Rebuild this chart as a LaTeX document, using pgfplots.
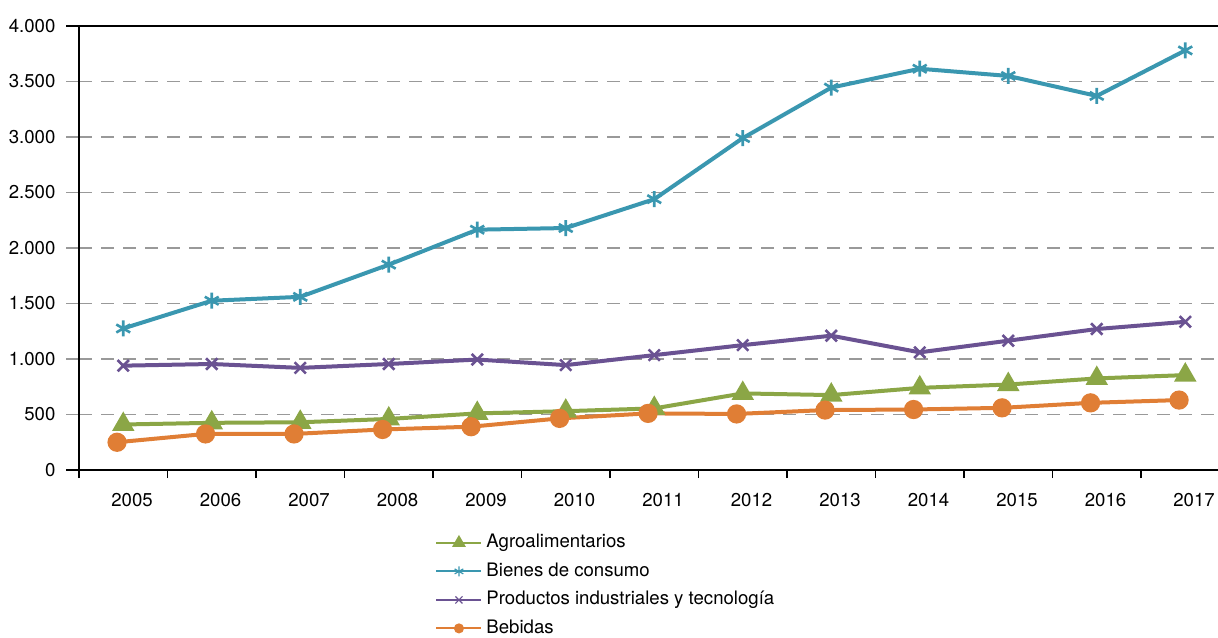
\documentclass[border=0pt]{standalone}
\usepackage{fontspec}
\setmainfont{TeX Gyre Heros}
\usepackage{pgfplots}
\pgfplotsset{compat=1.18}
\usetikzlibrary{calc}
\definecolor{agro}{HTML}{8BA646}
\definecolor{bienes}{HTML}{3A97B0}
\definecolor{prod}{HTML}{6A5292}
\definecolor{bebidas}{HTML}{E07E35}
\begin{document}
\begin{tikzpicture}
\begin{axis}[
  name=ax, at={(0,0)}, anchor=south west,
  scale only axis, width=569.5pt, height=222pt,
  xmin=-0.5, xmax=12.37, ymin=0, ymax=4000,
  axis x line=bottom, axis y line=left,
  axis line style={-, line width=0.8pt, black},
  tick align=outside,
  font=\fontsize{9.3}{11}\selectfont,
  xtick={-0.5,0.5,...,11.5},
  xticklabels={2005,2006,2007,2008,2009,2010,2011,2012,2013,2014,2015,2016,2017},
  xticklabel style={xshift=26.5pt, yshift=-4pt},
  xtick style={black, line width=0.8pt, /pgfplots/major tick length=4pt},
  ytick={500,1000,...,3500},
  ytick style={draw=gray!80, line width=0.7pt, /pgfplots/major tick length=6.5pt},
  yticklabel style={xshift=-4pt},
  extra y ticks={0,4000},
  extra y tick style={ytick style={draw=black, line width=0.8pt}, major grid style={solid, black, line width=0.8pt}},
  ymajorgrids,
  major grid style={gray!80, line width=0.7pt, dash pattern=on 6.5pt off 4.5pt},
  /pgf/number format/1000 sep={.},
  /pgf/number format/assume math mode=true,
  legend style={at={(0.3126,-0.134)}, anchor=north west, draw=none, fill=none,
    inner sep=0pt, row sep=1.25pt, font=\fontsize{9.3}{11}\selectfont,
    nodes={text height=7pt, text depth=2pt, inner sep=2pt}},
  legend cell align=left,
  legend image code/.code={\draw[mark repeat=2,mark phase=2,#1] plot coordinates {(0pt,0pt)(11.25pt,0pt)(22.5pt,0pt)};},
  clip=false,
]
\addplot[agro, line width=2pt, mark=triangle*, mark size=4.5pt, mark options={solid},
  legend image post style={line width=1pt, mark size=3pt}] coordinates {
(0,410) (1,425) (2,430) (3,460) (4,510) (5,530) (6,555) (7,690) (8,675) (9,740) (10,770) (11,825) (12,855)};
\addlegendentry{Agroalimentarios}
\addplot[bienes, line width=2pt, mark=asterisk, mark size=4pt, mark options={solid, line width=1.3pt},
  legend image post style={line width=1pt, mark size=2.5pt, mark options={line width=0.6pt}}] coordinates {
(0,1275) (1,1525) (2,1560) (3,1850) (4,2165) (5,2180) (6,2440) (7,2990) (8,3445) (9,3615) (10,3550) (11,3370) (12,3780)};
\addlegendentry{Bienes de consumo}
\addplot[prod, line width=2pt, mark=x, mark size=4pt, mark options={solid, line width=1.3pt},
  legend image post style={line width=1pt, mark size=2.5pt, mark options={line width=0.6pt}}] coordinates {
(0,940) (1,955) (2,920) (3,955) (4,995) (5,945) (6,1035) (7,1125) (8,1210) (9,1060) (10,1165) (11,1270) (12,1335)};
\addlegendentry{Productos industriales y tecnología}
\addplot[bebidas, line width=2pt, mark=*, mark size=3.8pt, mark options={solid},
  legend image post style={line width=1pt, mark size=2pt}] coordinates {
(-0.07,250) (0.93,325) (1.93,325) (2.93,365) (3.93,390) (4.93,465) (5.93,510) (6.93,505) (7.93,540) (8.93,545) (9.93,560) (10.93,605) (11.93,630)};
\addlegendentry{Bebidas}
\end{axis}
\pgfresetboundingbox
\path ($(ax.south west)+(-39.5pt,-83.5pt)$) rectangle ($(ax.south west)+(569.5pt,235pt)$);
\end{tikzpicture}
\end{document}
